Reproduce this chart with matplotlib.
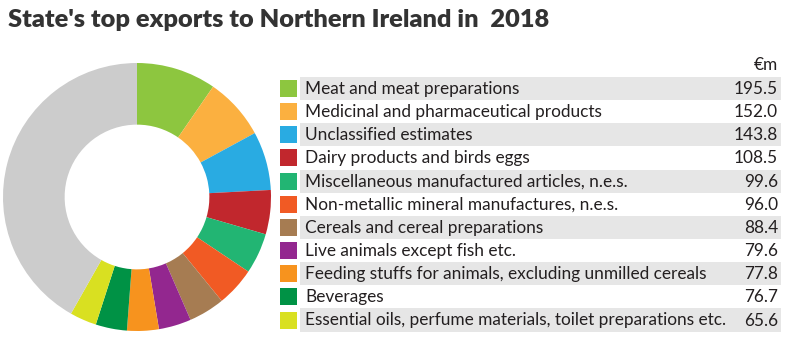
import matplotlib
matplotlib.use("Agg")
import matplotlib.pyplot as plt
from matplotlib.patches import Rectangle

title = "State's top exports to Northern Ireland in  2018"
categories = [
    "Meat and meat preparations",
    "Medicinal and pharmaceutical products",
    "Unclassified estimates",
    "Dairy products and birds eggs",
    "Miscellaneous manufactured articles, n.e.s.",
    "Non-metallic mineral manufactures, n.e.s.",
    "Cereals and cereal preparations",
    "Live animals except fish etc.",
    "Feeding stuffs for animals, excluding unmilled cereals",
    "Beverages",
    "Essential oils, perfume materials, toilet preparations etc.",
]
values = [195.5, 152.0, 143.8, 108.5, 99.6, 96.0, 88.4, 79.6, 77.8, 76.7, 65.6]
other_value = 850.0  # estimated remainder (grey slice)
colors = ["#8dc63f", "#fbb040", "#29abe2", "#c1272d", "#22b573", "#f15a24",
          "#a67c52", "#93278f", "#f7931e", "#009245", "#d9e021"]
other_color = "#cccccc"
unit_label = "€m"

plt.rcParams['font.family'] = ['Lato', 'DejaVu Sans']

W, H = 800, 361
fig = plt.figure(figsize=(W / 100, H / 100), dpi=100)

# Donut
cx, cy, r = 137, 197, 134
ax = fig.add_axes([(cx - r) / W, (H - cy - r) / H, 2 * r / W, 2 * r / H])
ax.pie(values + [other_value], colors=colors + [other_color], startangle=90,
       counterclock=False, radius=1.0,
       wedgeprops=dict(width=0.46, linewidth=0))
ax.set_xlim(-1, 1)
ax.set_ylim(-1, 1)
ax.set_aspect('equal')
ax.axis('off')

# Table
tx = fig.add_axes([0, 0, 1, 1])
tx.set_xlim(0, W)
tx.set_ylim(H, 0)
tx.axis('off')

y0, dy = 88.5, 23.15
for i, (cat, val, col) in enumerate(zip(categories, values, colors)):
    yc = y0 + i * dy
    if i % 2 == 0:
        tx.add_patch(Rectangle((300, yc - dy / 2), 481, dy, facecolor="#e6e6e6",
                               edgecolor='none'))
    tx.add_patch(Rectangle((280, yc - 8.5), 17, 17, facecolor=col, edgecolor='none'))
    tx.text(305, yc + 0.5, cat, fontsize=12.45, color="#231f20", va='center', ha='left')
    tx.text(778, yc + 0.5, f"{val:.1f}", fontsize=12.45, color="#231f20", va='center', ha='right')

tx.text(778, 65, unit_label, fontsize=12.45, color="#231f20", va='center', ha='right')

fig.text(8 / W, 1 - 20 / H, title, fontsize=18.3, fontweight='heavy', color="#333333",
         va='center', ha='left')

fig.savefig("out.png", dpi=100)
